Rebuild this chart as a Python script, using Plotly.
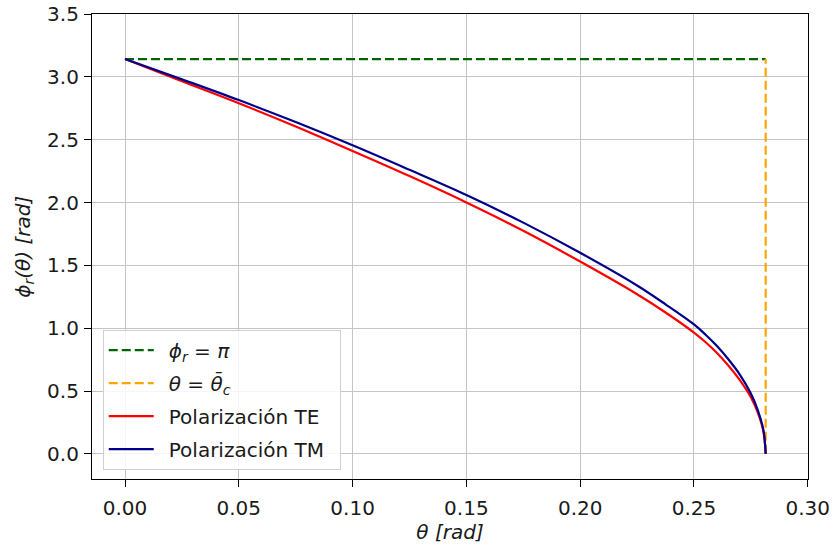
import plotly.graph_objects as go

# Incidence angle samples [rad] and reflected phase for each polarization [rad]
theta = [0.0, 0.025, 0.05, 0.075, 0.10, 0.125, 0.15, 0.175, 0.20, 0.225,
         0.2375, 0.25, 0.255, 0.26, 0.265, 0.27, 0.275, 0.278, 0.2805, 0.2815]
phi_te = [3.1416, 2.965, 2.79, 2.605, 2.41, 2.21, 2.00, 1.775, 1.53, 1.27,
          1.125, 0.965, 0.89, 0.805, 0.705, 0.59, 0.45, 0.33, 0.18, 0.0]
phi_tm = [3.1416, 2.98, 2.815, 2.64, 2.455, 2.26, 2.06, 1.84, 1.60, 1.34,
          1.19, 1.03, 0.95, 0.86, 0.755, 0.635, 0.48, 0.35, 0.19, 0.0]

theta_c = 0.2815
phi_pi = 3.1416

x_ticks = [0.00, 0.05, 0.10, 0.15, 0.20, 0.25, 0.30]
y_ticks = [0.0, 0.5, 1.0, 1.5, 2.0, 2.5, 3.0, 3.5]

font_main = "DejaVu Sans"
txt_color = "#1a1a1a"
pad = "\u2002"  # gap between legend line sample and its label

fig = go.Figure()

fig.add_trace(go.Scatter(
    x=[0.0, theta_c], y=[phi_pi, phi_pi], mode="lines",
    line=dict(color="#006400", width=2.2, dash="9px,4px"),
    name=pad + "<i>ϕ</i><sub><i>r</i></sub> = <i>π</i>", legendgroup="a"))
fig.add_trace(go.Scatter(
    x=[theta_c, theta_c], y=[0.0, phi_pi], mode="lines",
    line=dict(color="#FFA500", width=2.2, dash="9px,4px"),
    name=pad + "<i>θ</i> = <i>θ\u0304</i><sub><i>c</i></sub>", legendgroup="b"))
fig.add_trace(go.Scatter(
    x=theta, y=phi_te, mode="lines",
    line=dict(color="#FF0000", width=2.2, shape="spline", smoothing=1.0),
    name=pad + "Polarización TE" + pad, legendgroup="c"))
fig.add_trace(go.Scatter(
    x=theta, y=phi_tm, mode="lines",
    line=dict(color="#00008B", width=2.2, shape="spline", smoothing=1.0),
    name=pad + "Polarización TM" + pad, legendgroup="d"))

axis_common = dict(
    showline=True, linecolor="black", linewidth=1.2, mirror=True,
    ticks="outside", ticklen=7, tickwidth=1, tickcolor="black",
    showgrid=True, gridcolor="#c4c4c4", gridwidth=1,
    zeroline=False,
    tickfont=dict(family=font_main, size=20, color=txt_color),
)

fig.update_xaxes(
    range=[-0.0145, 0.3001], tickvals=x_ticks,
    ticktext=[f"{v:.2f}" for v in x_ticks],
    ticklabelstandoff=4,
    title=dict(text="<i>θ [rad]</i>", standoff=5,
               font=dict(family=font_main, size=20, color=txt_color)),
    **axis_common)
fig.update_yaxes(
    range=[-0.2, 3.5], tickvals=y_ticks,
    ticktext=[f"{v:.1f}" for v in y_ticks],
    ticklabelstandoff=1,
    **axis_common)

# y-axis label placed as a rotated annotation left of the tick labels
fig.add_annotation(
    text="<i>ϕ<sub>r</sub>(θ) [rad]</i>", textangle=-90,
    xref="paper", yref="paper", x=-0.096, y=0.5,
    xanchor="center", yanchor="middle", showarrow=False,
    font=dict(family=font_main, size=20, color=txt_color))

fig.update_layout(
    width=832, height=548,
    margin=dict(l=92, r=24, t=14, b=69, autoexpand=False),
    paper_bgcolor="white", plot_bgcolor="white",
    showlegend=True,
    legend=dict(
        x=0.015, y=0.02, xanchor="left", yanchor="bottom",
        bgcolor="rgba(255,255,255,0.85)", bordercolor="#d0d0d0", borderwidth=1,
        font=dict(family=font_main, size=20, color=txt_color),
        traceorder="grouped", tracegroupgap=4, itemwidth=45,
    ),
)

fig.write_html("out.html")
